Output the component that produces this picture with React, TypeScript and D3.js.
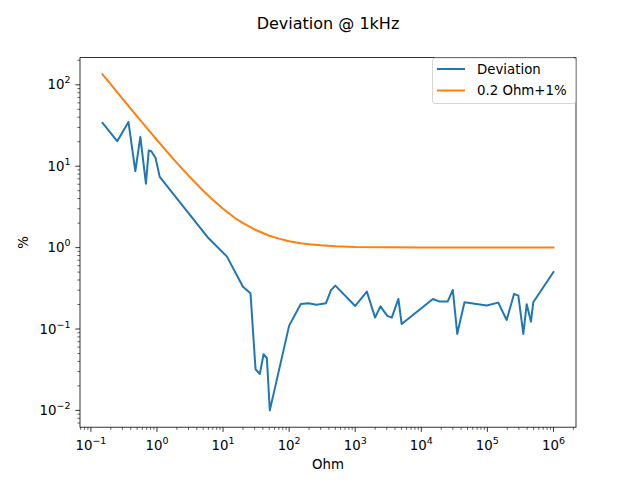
import * as d3 from "d3";

// values
const ohms = [
  0.15, 0.25, 0.37, 0.47, 0.56, 0.68, 0.75, 0.82, 0.95, 1.1,
  6, 11.4, 20, 26, 31, 36, 41, 46, 51, 100,
  150, 195, 260, 360, 430, 500, 1000, 1500, 2000, 2400,
  3060, 3570, 4500, 5050, 15000, 19000, 25000, 30000, 35000, 45000,
  98000, 146000, 196000, 253000, 294000, 350000, 394000, 457000, 495000, 1000000,
];
const deviation = [
  34, 20.3, 35, 8.7, 22.9, 6.1, 15.6, 15.3, 12.7, 7.4,
  1.31, 0.78, 0.33, 0.275, 0.032, 0.028, 0.049, 0.044, 0.01, 0.11,
  0.203, 0.207, 0.199, 0.207, 0.3, 0.341, 0.192, 0.288, 0.138, 0.19,
  0.145, 0.138, 0.234, 0.115, 0.234, 0.217, 0.217, 0.302, 0.087, 0.213,
  0.194, 0.211, 0.129, 0.27, 0.257, 0.087, 0.202, 0.123, 0.213, 0.5,
];
const refOhms = [
  0.15, 0.2, 0.3, 0.5, 0.7, 1, 1.5, 2, 3, 5, 7, 10, 15, 20, 30, 50, 70,
  100, 150, 200, 300, 500, 1000, 10000, 100000, 1000000,
];
const refLimit = [
  134.3, 101, 67.7, 41, 29.6, 21, 14.3, 11, 7.67, 5, 3.86, 3, 2.33, 2, 1.67, 1.4, 1.29,
  1.2, 1.13, 1.1, 1.067, 1.04, 1.02, 1.002, 1.0002, 1.00002,
];
const seriesNames = ["Deviation", "0.2 Ohm+1%"];
const seriesColors = ["#1f77b4", "#ff7f0e"];
const xTickExps = [-1, 0, 1, 2, 3, 4, 5, 6];
const yTickExps = [-2, -1, 0, 1, 2];

const W = 640;
const H = 480;
const L = 80;
const R = 576;
const T = 57.6;
const B = 427.2;
const FONT = "DejaVu Sans, sans-serif";

function padLog(lo: number, hi: number): [number, number] {
  const a = Math.log10(lo);
  const b = Math.log10(hi);
  const m = (b - a) * 0.05;
  return [10 ** (a - m), 10 ** (b + m)];
}

function minorTicks(domain: [number, number]) {
  const out: number[] = [];
  for (let k = Math.floor(Math.log10(domain[0])); k <= Math.ceil(Math.log10(domain[1])); k++) {
    for (let m = 2; m <= 9; m++) {
      const v = m * 10 ** k;
      if (v >= domain[0] && v <= domain[1]) out.push(v);
    }
  }
  return out;
}

function expLabel(e: number) {
  return e < 0 ? "\u2212" + Math.abs(e) : String(e);
}

export default function App() {
  const allX = [...ohms, ...refOhms];
  const allY = [...deviation, ...refLimit];
  const xDom = padLog(d3.min(allX)!, d3.max(allX)!);
  const yDom = padLog(d3.min(allY)!, d3.max(allY)!);
  const x = d3.scaleLog().domain(xDom).range([L, R]);
  const y = d3.scaleLog().domain(yDom).range([B, T]);

  const line = d3
    .line<[number, number]>()
    .x((d) => x(d[0]))
    .y((d) => y(d[1]));

  const devPath = line(ohms.map((o, i) => [o, deviation[i]]))!;
  const refPath = line(refOhms.map((o, i) => [o, refLimit[i]]))!;

  return (
    <svg width={W} height={H} style={{ display: "block", margin: -8 }} fontFamily={FONT}>
      <rect width={W} height={H} fill="#fff" />
      <defs>
        <clipPath id="plot">
          <rect x={L} y={T} width={R - L} height={B - T} />
        </clipPath>
      </defs>
      <text x={(L + R) / 2} y={29} textAnchor="middle" fontSize={16} fill="#000">
        Deviation @ 1kHz
      </text>

      <g clipPath="url(#plot)" fill="none" strokeWidth={2} strokeLinejoin="round" strokeLinecap="square">
        <path d={devPath} stroke={seriesColors[0]} />
        <path d={refPath} stroke={seriesColors[1]} />
      </g>

      {/* x ticks */}
      <g stroke="#000" strokeWidth={0.8}>
        {xTickExps.map((e) => (
          <line key={"xM" + e} x1={x(10 ** e)} x2={x(10 ** e)} y1={B} y2={B + 4.67} />
        ))}
        {minorTicks(xDom).map((v, i) => (
          <line key={"xm" + i} x1={x(v)} x2={x(v)} y1={B} y2={B + 2.67} strokeWidth={0.6} />
        ))}
        {yTickExps.map((e) => (
          <line key={"yM" + e} x1={L} x2={L - 4.67} y1={y(10 ** e)} y2={y(10 ** e)} />
        ))}
        {minorTicks(yDom).map((v, i) => (
          <line key={"ym" + i} x1={L} x2={L - 2.67} y1={y(v)} y2={y(v)} strokeWidth={0.6} />
        ))}
      </g>
      <g fontSize={13.33} fill="#000">
        {xTickExps.map((e) => (
          <text key={"xl" + e} x={x(10 ** e)} y={450} textAnchor="middle">
            <tspan>10</tspan>
            <tspan dy={-6} fontSize={9.5}>{expLabel(e)}</tspan>
          </text>
        ))}
        {yTickExps.map((e) => (
          <text key={"yl" + e} x={70.5} y={y(10 ** e) + 4.5} textAnchor="end">
            <tspan>10</tspan>
            <tspan dy={-6} fontSize={9.5}>{expLabel(e)}</tspan>
          </text>
        ))}
        <text x={(L + R) / 2} y={469} textAnchor="middle">Ohm</text>
        <text transform={`translate(28,${(T + B) / 2}) rotate(-90)`} textAnchor="middle">%</text>
      </g>

      <rect x={L} y={T} width={R - L} height={B - T} fill="none" stroke="#000" strokeWidth={0.8} />

      {/* legend */}
      <g>
        <rect x={432.5} y={58} width={143} height={45.5} rx={2.5} fill="#fff" fillOpacity={0.8} stroke="#ccc" strokeWidth={0.8} />
        {seriesNames.map((n, i) => (
          <g key={n}>
            <line x1={437} x2={465} y1={69 + i * 21.5} y2={69 + i * 21.5} stroke={seriesColors[i]} strokeWidth={2} />
            <text x={477} y={69 + i * 21.5 + 4.7} fontSize={13.33} fill="#000">{n}</text>
          </g>
        ))}
      </g>
    </svg>
  );
}
